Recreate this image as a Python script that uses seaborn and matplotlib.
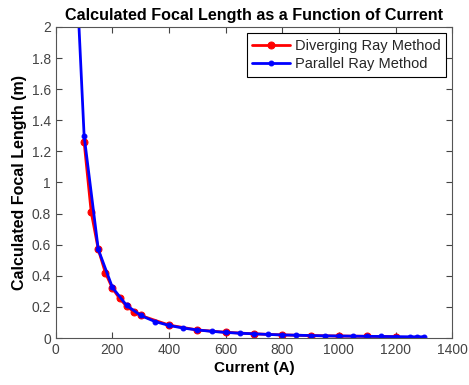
import numpy as np
import pandas as pd
import matplotlib
matplotlib.use("Agg")
import matplotlib.pyplot as plt
import seaborn as sns

# values
div_current = [100, 125, 150, 175, 200, 225, 250, 275, 300, 400, 500, 600,
               700, 800, 900, 1000, 1100, 1200]
div_focal = [1.26, 0.81, 0.57, 0.42, 0.32, 0.255, 0.205, 0.17, 0.145, 0.083,
             0.052, 0.037, 0.027, 0.02, 0.016, 0.013, 0.011, 0.009]

par_current = [78, 100, 150, 200, 250, 300, 350, 400, 450, 500, 550, 600, 650,
               700, 750, 800, 850, 900, 950, 1000, 1050, 1100, 1150, 1200,
               1250, 1275, 1300]
par_focal = [2.15, 1.30, 0.57, 0.325, 0.21, 0.145, 0.106, 0.081, 0.064, 0.052,
             0.043, 0.036, 0.031, 0.027, 0.023, 0.020, 0.018, 0.016, 0.014,
             0.013, 0.012, 0.011, 0.010, 0.009, 0.008, 0.008, 0.008]

df_div = pd.DataFrame({"Current": div_current, "Focal": div_focal})
df_par = pd.DataFrame({"Current": par_current, "Focal": par_focal})

sns.set_style("ticks")
plt.rcParams['font.family'] = ['Liberation Sans', 'DejaVu Sans']
plt.rcParams['xtick.direction'] = 'in'
plt.rcParams['ytick.direction'] = 'in'

fig = plt.figure(figsize=(4.69, 3.85), dpi=100)
ax = fig.add_axes([0.119, 0.122, 0.845, 0.808])

sns.lineplot(data=df_div, x="Current", y="Focal", color="red", linewidth=2,
             marker="o", markersize=5, markeredgecolor="red",
             label="Diverging Ray Method", ax=ax, sort=False)
sns.lineplot(data=df_par, x="Current", y="Focal", color="blue", linewidth=2,
             marker="o", markersize=3.5, markeredgecolor="blue",
             label="Parallel Ray Method", ax=ax, sort=False)

ax.set_xlim(0, 1400)
ax.set_ylim(0, 2)
ax.set_xticks(np.arange(0, 1401, 200))
ax.set_yticks(np.arange(0, 2.01, 0.2))
ax.set_yticklabels(["0", "0.2", "0.4", "0.6", "0.8", "1", "1.2", "1.4",
                    "1.6", "1.8", "2"])
ax.tick_params(labelsize=10, colors="#444444", top=True, right=True,
               length=4, width=0.8)
for s in ax.spines.values():
    s.set_visible(True)
    s.set_color("#555555")
    s.set_linewidth(0.8)

ax.set_title("Calculated Focal Length as a Function of Current",
             fontsize=11.6, fontweight="bold", color="black", pad=5)
ax.set_xlabel("Current (A)", fontsize=11, fontweight="bold", color="black",
              labelpad=3)
ax.set_ylabel("Calculated Focal Length (m)", fontsize=11.5, fontweight="bold",
              color="black", labelpad=3)

leg = ax.legend(loc="upper right", fontsize=10.5, frameon=True, fancybox=False,
                edgecolor="black", framealpha=1, borderpad=0.4,
                handlelength=2.6, labelspacing=0.3, borderaxespad=0.4,
                handletextpad=0.3)
leg.get_frame().set_linewidth(0.8)

plt.savefig("out.png", dpi=100)
